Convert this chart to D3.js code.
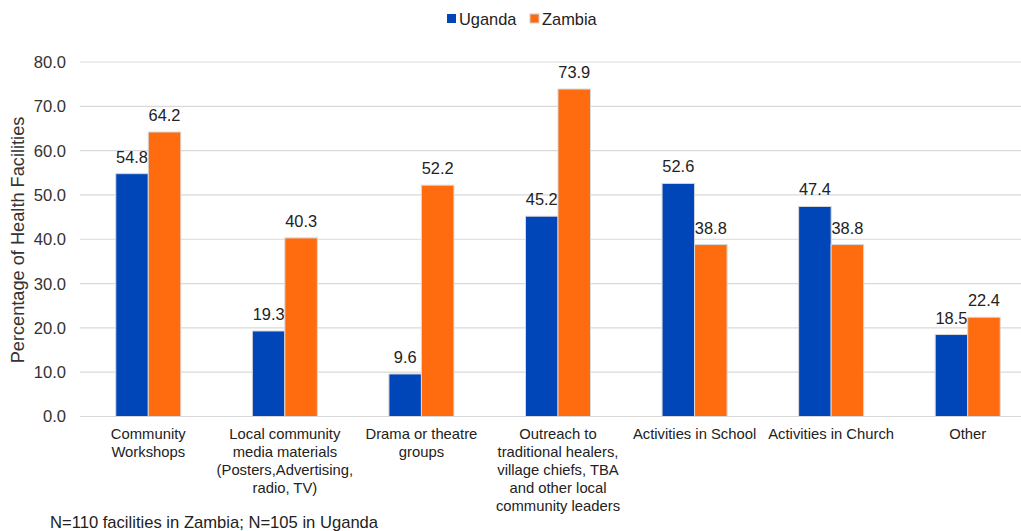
<!DOCTYPE html>
<html><head><meta charset="utf-8">
<script src="https://cdn.jsdelivr.net/npm/d3@7"></script>
<style>body{margin:0;background:#fff;overflow:hidden}svg{display:block;font-family:"Liberation Sans",Arial,sans-serif}</style>
</head><body>
<svg id="c" width="1021" height="531"></svg>
<script>
const categories = ["Community Workshops","Local community media materials (Posters,Advertising, radio, TV)","Drama or theatre groups","Outreach to traditional healers, village chiefs, TBA and other local community leaders","Activities in School","Activities in Church","Other"];
const categoryLines = [
  ["Community","Workshops"],
  ["Local community","media materials","(Posters,Advertising,","radio, TV)"],
  ["Drama or theatre","groups"],
  ["Outreach to","traditional healers,","village chiefs, TBA","and other local","community leaders"],
  ["Activities in School"],
  ["Activities in Church"],
  ["Other"]
];
const seriesNames = ["Uganda","Zambia"];
const uganda = [54.8,19.3,9.6,45.2,52.6,47.4,18.5];
const zambia = [64.2,40.3,52.2,73.9,38.8,38.8,22.4];
const yTicks = [0,10,20,30,40,50,60,70,80];
const colors = ["#0046b8","#ff6b0f"];
const footnote = "N=110 facilities in Zambia; N=105 in Uganda";

(function(){
const svg = d3.select("#c");
const mLeft = 80, mRight = 1036, mTop = 62, mBottom = 416.5;
const x0 = d3.scaleBand().domain(categories).range([mLeft, mRight]).padding(0);
const groupW = x0.bandwidth() * 0.476;
const x1 = d3.scaleBand().domain(seriesNames).range([0, groupW]).padding(0);
const y = d3.scaleLinear().domain([0,80]).range([mBottom, mTop]);

svg.append("g").selectAll("line").data(yTicks).join("line")
  .attr("x1", mLeft).attr("x2", mRight)
  .attr("y1", d => y(d)).attr("y2", d => y(d))
  .attr("stroke", "#d9d9d9").attr("stroke-width", 1.2);

svg.append("g").selectAll("text").data(yTicks).join("text")
  .attr("x", 66).attr("y", d => y(d)).attr("dy", "0.36em")
  .attr("text-anchor", "end").attr("font-size", 16.6).attr("fill", "#333")
  .text(d => d.toFixed(1));

svg.append("text").attr("transform", "translate(24,240) rotate(-90)")
  .attr("text-anchor", "middle").attr("font-size", 18.2).attr("fill", "#333")
  .text("Percentage of Health Facilities");

const data = [uganda, zambia];
const groups = svg.append("g").selectAll("g").data(categories).join("g")
  .attr("transform", d => `translate(${x0(d) + (x0.bandwidth() - groupW)/2},0)`);

groups.each(function(cat, i) {
  const g = d3.select(this);
  seriesNames.forEach((s, si) => {
    const v = data[si][i];
    g.append("rect")
      .attr("x", x1(s)).attr("width", x1.bandwidth())
      .attr("y", y(v)).attr("height", y(0) - y(v))
      .attr("fill", colors[si]).attr("stroke", "#d8d8d8").attr("stroke-width", 1);
    g.append("text")
      .attr("x", x1(s) + x1.bandwidth()/2).attr("y", y(v) - 11)
      .attr("text-anchor", "middle").attr("font-size", 16.4).attr("fill", "#222")
      .text(v.toFixed(1));
  });
});

const catG = svg.append("g").selectAll("text").data(categories).join("text")
  .attr("x", d => x0(d) + x0.bandwidth()/2)
  .attr("y", 439).attr("text-anchor", "middle").attr("font-size", 14.8).attr("fill", "#222");
catG.each(function(d, i) {
  d3.select(this).selectAll("tspan").data(categoryLines[i]).join("tspan")
    .attr("x", x0(d) + x0.bandwidth()/2)
    .attr("dy", (t, j) => j === 0 ? 0 : 18)
    .text(t => t);
});

const legend = svg.append("g");
const legendItems = [{name: seriesNames[0], x: 447}, {name: seriesNames[1], x: 530}];
legendItems.forEach((it, i) => {
  legend.append("rect").attr("x", it.x).attr("y", 14).attr("width", 9).attr("height", 9)
    .attr("fill", colors[i]).attr("stroke", i === 1 ? "#d0d0d0" : "none");
  legend.append("text").attr("x", it.x + 12).attr("y", 24.5)
    .attr("font-size", 16.4).attr("fill", "#222").text(it.name);
});

svg.append("text").attr("x", 50).attr("y", 528).attr("font-size", 16.6).attr("fill", "#222").text(footnote);
})();
</script>
</body></html>
